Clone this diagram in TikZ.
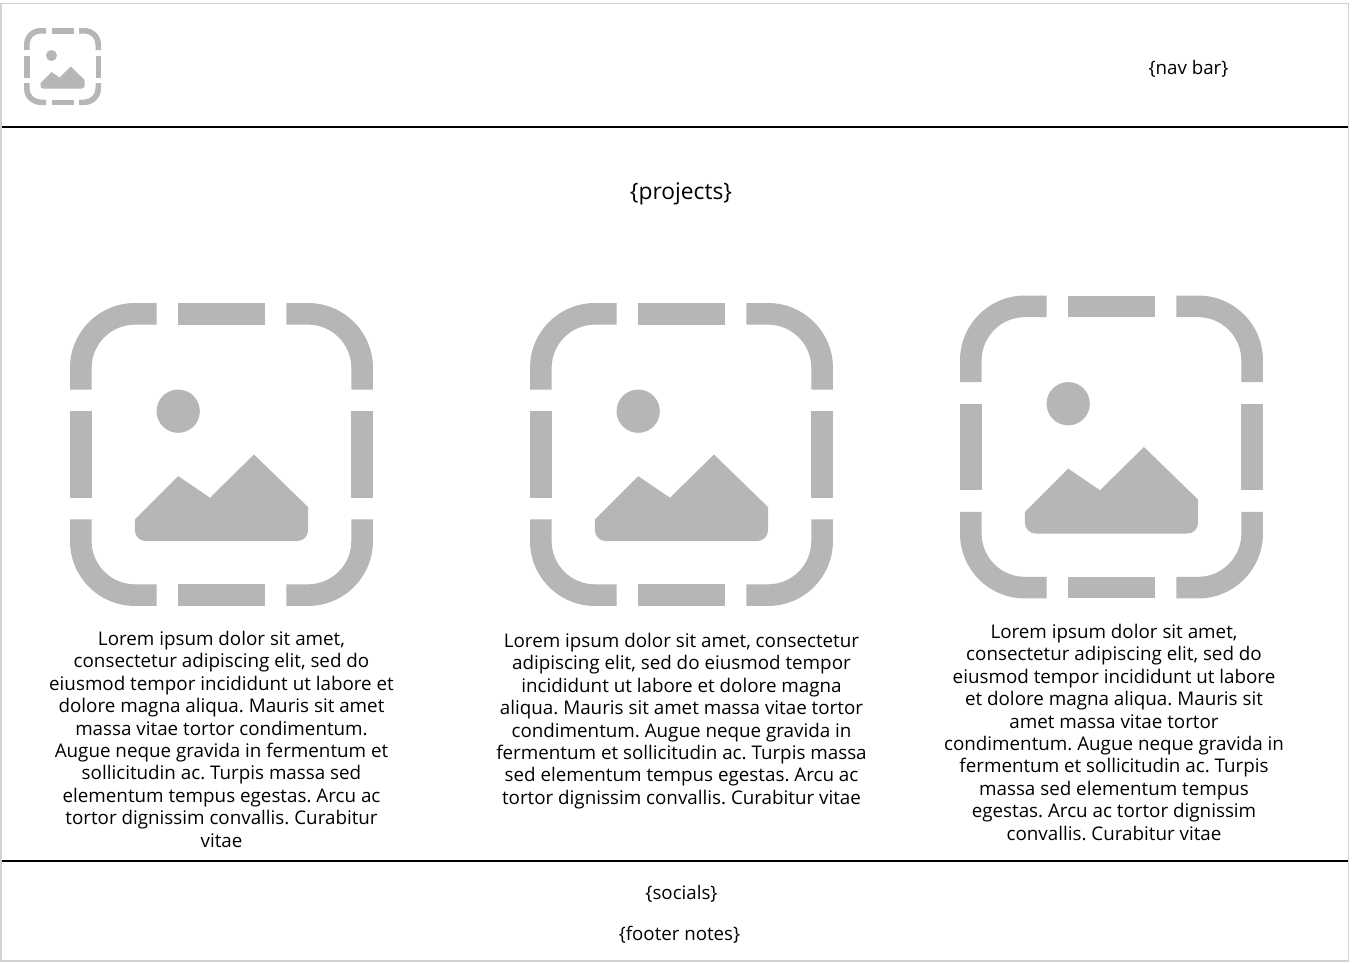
\documentclass[tikz,border=0pt]{standalone}
\usepackage{fontspec}
\setmainfont{Open Sans}
\usepackage{tikz}
\usetikzlibrary{positioning}
\definecolor{icongray}{HTML}{B5B6B5}
\definecolor{framegray}{HTML}{D2D2D2}
\frenchspacing

\tikzset{
    imgicon/.pic={
        \foreach \r in {0,90,180,270} {
            \fill[icongray, rotate around={\r:(7,7)}] (0,4) -- (0,3) arc (180:270:3) -- (4,0) -- (4,1) -- (3,1) arc (270:180:2) -- (1,4) -- cycle;
            \fill[icongray, rotate around={\r:(7,7)}] (5,0) rectangle (9,1);
        }
        \fill[icongray] (5,5) circle (1);
        \fill[icongray] (3,10) -- (5,8) -- (6.47,9) -- (8.5,7) -- (11,9.43) -- (11,10.5) .. controls (11,10.78) and (10.78,11) .. (10.5,11) -- (3.5,11) .. controls (3.22,11) and (3,10.78) .. (3,10.5) -- cycle;
    }
}

\begin{document}
\begin{tikzpicture}[
    x=1pt, y=-1pt,
    label/.style={inner sep=0pt, font=\fontsize{18.7}{22}\selectfont},
    bodytext/.style={inner sep=0pt, align=center, font=\fontsize{18.8}{22.4}\selectfont},
    rule/.style={line width=2pt, black}
]
\useasboundingbox (0,0) rectangle (1353,962);
\draw[framegray, line width=1.2pt] (1,3.5) -- (1348.5,3.5) -- (1348.5,961) -- (1,961) -- cycle;

\coordinate (ruleTL) at (2,127);
\coordinate (ruleTR) at (1348,127);
\coordinate (ruleBL) at (2,861);
\coordinate (ruleBR) at (1348,861);
\draw[rule] (ruleTL) -- (ruleTR);
\draw[rule] (ruleBL) -- (ruleBR);

\pic[scale=5.5] at (24,28) {imgicon};
\node[label] (nav) at (1188.5,69) {\{nav bar\}};
\node[label, font=\fontsize{22.8}{26}\selectfont] (projects) at (681,194) {\{projects\}};

\pic[scale=21.64] at (70,303) {imgicon};
\pic[scale=21.64] at (530,303) {imgicon};
\pic[scale=21.64] at (960,295.5) {imgicon};

\node[bodytext, anchor=north] (textA) at (221.5,631) {Lorem ipsum dolor sit amet,\\consectetur adipiscing elit, sed do\\eiusmod tempor incididunt ut labore et\\dolore magna aliqua. Mauris sit amet\\massa vitae tortor condimentum.\\Augue neque gravida in fermentum et\\sollicitudin ac. Turpis massa sed\\elementum tempus egestas. Arcu ac\\tortor dignissim convallis. Curabitur\\vitae};
\node[bodytext, anchor=north] (textB) at (681.5,633) {Lorem ipsum dolor sit amet, consectetur\\adipiscing elit, sed do eiusmod tempor\\incididunt ut labore et dolore magna\\aliqua. Mauris sit amet massa vitae tortor\\condimentum. Augue neque gravida in\\fermentum et sollicitudin ac. Turpis massa\\sed elementum tempus egestas. Arcu ac\\tortor dignissim convallis. Curabitur vitae};
\node[bodytext, anchor=north] (textC) at (1114,624) {Lorem ipsum dolor sit amet,\\consectetur adipiscing elit, sed do\\eiusmod tempor incididunt ut labore\\et dolore magna aliqua. Mauris sit\\amet massa vitae tortor\\condimentum. Augue neque gravida in\\fermentum et sollicitudin ac. Turpis\\massa sed elementum tempus\\egestas. Arcu ac tortor dignissim\\convallis. Curabitur vitae};

\node[label] (socials) at (681.5,894) {\{socials\}};
\node[label] (footer) at (679.5,935) {\{footer notes\}};
\end{tikzpicture}
\end{document}
